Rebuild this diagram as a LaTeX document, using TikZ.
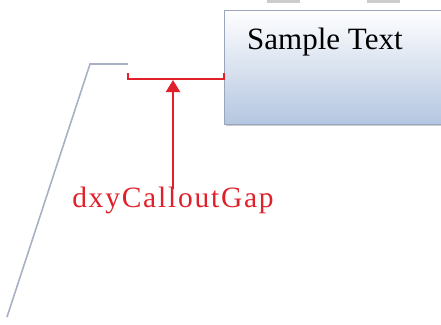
\documentclass[tikz,border=0pt]{standalone}
\usepackage{fontspec}
\setmainfont{Liberation Serif}
\newfontfamily\gapfont[LetterSpace=6]{Liberation Serif}
\usetikzlibrary{arrows.meta,shadows}
\definecolor{gapred}{HTML}{E0202A}
\definecolor{leadgray}{HTML}{A8B0C4}
\definecolor{boxblue}{HTML}{B4C6E0}
\definecolor{boxedge}{HTML}{9AA6BC}
\tikzset{
	calloutbox/.style={draw=boxedge,line width=0.8pt,top color=white,bottom color=boxblue,inner sep=0,outer sep=0,
		drop shadow={shadow xshift=2pt,shadow yshift=-2pt,fill=black!35,opacity=0.6}},
	handle/.style={fill=black!20,draw=none,inner sep=0,outer sep=0},
	leader/.style={draw=leadgray,line width=1.6pt},
	gapline/.style={draw=gapred,line width=1.4pt},
	gaparrow/.style={draw=gapred,line width=2pt,-{Triangle[width=14pt,length=12pt]}}
}
\begin{document}
\begin{tikzpicture}[x=1pt,y=-1pt]
	\useasboundingbox (0,0) rectangle (441,324);
	\clip (0,0) rectangle (441,324);
	\node[handle,minimum width=33pt,minimum height=2.5pt,anchor=north west] (handleA) at (267,0) {};
	\node[handle,minimum width=33pt,minimum height=2.5pt,anchor=north west] (handleB) at (367,0) {};
	\node[calloutbox,minimum width=240pt,minimum height=114pt,anchor=north west] (box) at (224,10) {};
	\node[anchor=base west,inner sep=0] (sample) at (247,49) {\fontsize{31}{37}\selectfont Sample Text};
	\node[anchor=base,inner sep=0,text=gapred] (gaplabel) at (173,207) {\gapfont\fontsize{29.5}{35}\selectfont dxyCalloutGap};
	\coordinate (leadA) at (128,64);
	\coordinate (leadB) at (90,64);
	\coordinate (leadC) at (7,317);
	\coordinate (gapL) at (128,79);
	\coordinate (gapR) at (box.west |- gapL);
	\coordinate (gapmid) at (173,80);
	\draw[leader] (leadA) -- (leadB) -- (leadC);
	\draw[gapline] (gapL) ++(0,-6) -- (gapL) -- (gapR) -- ++(0,-6);
	\draw[gaparrow] ([yshift=-3pt]gaplabel.north) -- (gapmid);
\end{tikzpicture}
\end{document}
